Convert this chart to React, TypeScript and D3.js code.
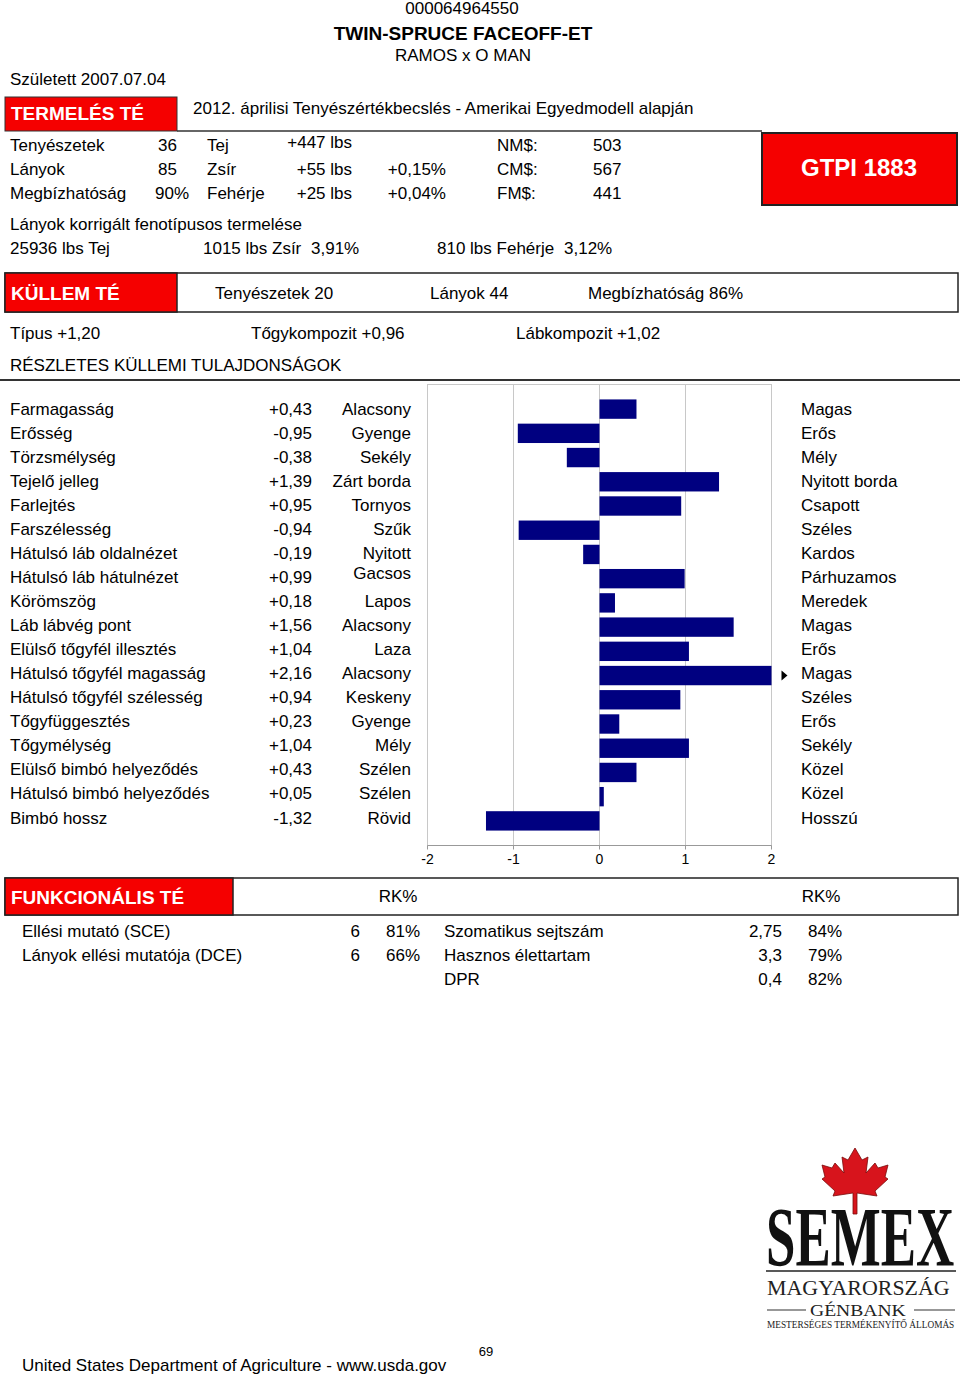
import React from "react";
import * as d3 from "d3";

const traitNames = [
  "Farmagasság", "Erősség", "Törzsmélység", "Tejelő jelleg", "Farlejtés", "Farszélesség",
  "Hátulsó láb oldalnézet", "Hátulsó láb hátulnézet", "Körömszög", "Láb lábvég pont",
  "Elülső tőgyfél illesztés", "Hátulsó tőgyfél magasság", "Hátulsó tőgyfél szélesség",
  "Tőgyfüggesztés", "Tőgymélység", "Elülső bimbó helyeződés", "Hátulsó bimbó helyeződés", "Bimbó hossz",
];
const traitValues = [0.43, -0.95, -0.38, 1.39, 0.95, -0.94, -0.19, 0.99, 0.18, 1.56, 1.04, 2.16, 0.94, 0.23, 1.04, 0.43, 0.05, -1.32];
const traitLow = [
  "Alacsony", "Gyenge", "Sekély", "Zárt borda", "Tornyos", "Szűk", "Nyitott", "Gacsos", "Lapos",
  "Alacsony", "Laza", "Alacsony", "Keskeny", "Gyenge", "Mély", "Szélen", "Szélen", "Rövid",
];
const traitHigh = [
  "Magas", "Erős", "Mély", "Nyitott borda", "Csapott", "Széles", "Kardos", "Párhuzamos", "Meredek",
  "Magas", "Erős", "Magas", "Széles", "Erős", "Sekély", "Közel", "Közel", "Hosszú",
];
const axisTicks = [-2, -1, 0, 1, 2];

const prodLabels = ["Tenyészetek", "Lányok", "Megbízhatóság"];
const prodCounts = ["36", "85", "90%"];
const prodTraits = ["Tej", "Zsír", "Fehérje"];
const prodLbs = ["+447 lbs", "+55 lbs", "+25 lbs"];
const prodPct = ["", "+0,15%", "+0,04%"];
const indexNames = ["NM$:", "CM$:", "FM$:"];
const indexValues = ["503", "567", "441"];

const funcLeftNames = ["Ellési mutató (SCE)", "Lányok ellési mutatója (DCE)"];
const funcLeftValues = ["6", "6"];
const funcLeftRel = ["81%", "66%"];
const funcRightNames = ["Szomatikus sejtszám", "Hasznos élettartam", "DPR"];
const funcRightValues = ["2,75", "3,3", "0,4"];
const funcRightRel = ["84%", "79%", "82%"];

const FONT = "'Liberation Sans', Arial, sans-serif";
const SERIF = "'Liberation Serif', 'Times New Roman', serif";
const RED = "#f50000";
const NAVY = "#000080";

const fmt = (v: number) => (v >= 0 ? "+" : "-") + Math.abs(v).toFixed(2).replace(".", ",");

export default function App() {
  const x = d3.scaleLinear().domain([-2, 2]).range([427.5, 771.5]);
  const idx = d3.range(traitNames.length);
  const y = d3.scaleBand<number>().domain(idx).range([397, 833]).paddingInner(0.2).paddingOuter(0.1);
  const center = (i: number) => (y(i) as number) + y.bandwidth() / 2;
  const yText = d3.scalePoint<number>().domain(idx).range([408.5, 817.5]);
  const plotTop = 384.5;
  const plotBottom = 845.5;

  const t = (props: any, s: string) => (
    <text fontFamily={FONT} fontSize={17} fill="#000" {...props}>
      {s}
    </text>
  );

  const prodY = [151, 175, 199];
  const rowDy = (i: number) => (i === 7 ? -4 : 0);

  const leaf = [
    [0, 0], [7, 12], [13, 9], [11, 25], [20, 15], [23, 20], [33, 17], [30, 29], [33, 31],
    [20, 43], [22, 48], [2, 45], [2, 66], [-2, 66], [-2, 45], [-22, 48], [-20, 43], [-33, 31],
    [-30, 29], [-33, 17], [-23, 20], [-20, 15], [-11, 25], [-13, 9], [-7, 12],
  ];
  const leafPath = d3.line()(leaf.map(([a, b]) => [855 + a, 1148 + b] as [number, number])) + "Z";

  return (
    <svg width={960} height={1377} style={{ position: "absolute", left: 0, top: 0, background: "#fff" }}>
      <rect x={0} y={0} width={960} height={1377} fill="#fff" />
      {t({ x: 462, y: 14, textAnchor: "middle" }, "000064964550")}
      {t({ x: 463, y: 40, textAnchor: "middle", fontSize: 19, fontWeight: "bold" }, "TWIN-SPRUCE FACEOFF-ET")}
      {t({ x: 463, y: 61, textAnchor: "middle" }, "RAMOS x O MAN")}
      {t({ x: 10, y: 85 }, "Született 2007.07.04")}

      <rect x={5} y={97} width={172} height={34} fill={RED} stroke="#333" strokeWidth={1} />
      {t({ x: 11, y: 120, fill: "#fff", fontWeight: "bold", fontSize: 19 }, "TERMELÉS TÉ")}
      {t({ x: 193, y: 114 }, "2012. áprilisi Tenyészértékbecslés - Amerikai Egyedmodell alapján")}
      <line x1={177} x2={762} y1={131} y2={131} stroke="#333" strokeWidth={1.5} />

      <rect x={762} y={133} width={195} height={72} fill={RED} stroke="#222" strokeWidth={2} />
      {t({ x: 859, y: 176, textAnchor: "middle", fill: "#fff", fontWeight: "bold", fontSize: 24 }, "GTPI 1883")}

      {prodLabels.map((s, i) => (
        <g key={"p" + i}>
          {t({ x: 10, y: prodY[i] }, s)}
          {t({ x: i === 2 ? 155 : 158, y: prodY[i] }, prodCounts[i])}
          {t({ x: 207, y: prodY[i] }, prodTraits[i])}
          {t({ x: 352, y: prodY[i] - (i === 0 ? 3 : 0), textAnchor: "end" }, prodLbs[i])}
          {t({ x: 446, y: prodY[i], textAnchor: "end" }, prodPct[i])}
          {t({ x: 497, y: prodY[i] }, indexNames[i])}
          {t({ x: 593, y: prodY[i] }, indexValues[i])}
        </g>
      ))}
      {t({ x: 10, y: 230 }, "Lányok korrigált fenotípusos termelése")}
      {t({ x: 10, y: 254 }, "25936 lbs Tej")}
      {t({ x: 203, y: 254 }, "1015 lbs Zsír")}
      {t({ x: 311, y: 254 }, "3,91%")}
      {t({ x: 437, y: 254 }, "810 lbs Fehérje")}
      {t({ x: 564, y: 254 }, "3,12%")}

      <rect x={5} y={273} width={953} height={39} fill="#fff" stroke="#222" strokeWidth={1.5} />
      <rect x={5} y={273} width={172} height={39} fill={RED} stroke="#222" strokeWidth={1.5} />
      {t({ x: 11, y: 300, fill: "#fff", fontWeight: "bold", fontSize: 19 }, "KÜLLEM TÉ")}
      {t({ x: 215, y: 299 }, "Tenyészetek 20")}
      {t({ x: 430, y: 299 }, "Lányok 44")}
      {t({ x: 588, y: 299 }, "Megbízhatóság 86%")}
      {t({ x: 10, y: 339 }, "Típus +1,20")}
      {t({ x: 251, y: 339 }, "Tőgykompozit +0,96")}
      {t({ x: 516, y: 339 }, "Lábkompozit +1,02")}
      {t({ x: 10, y: 371 }, "RÉSZLETES KÜLLEMI TULAJDONSÁGOK")}
      <line x1={0} x2={960} y1={380} y2={380} stroke="#333" strokeWidth={2} />

      <rect x={x(-2)} y={plotTop} width={x(2) - x(-2)} height={plotBottom - plotTop} fill="none" stroke="#c8c8c8" strokeWidth={1} />
      {axisTicks.map((v) => (
        <line key={"g" + v} x1={x(v)} x2={x(v)} y1={plotTop} y2={plotBottom} stroke="#c8c8c8" strokeWidth={1} />
      ))}
      <line x1={x(-2)} x2={x(2)} y1={plotBottom} y2={plotBottom} stroke="#999" strokeWidth={1} />
      {axisTicks.map((v) => (
        <g key={"t" + v}>
          <line x1={x(v)} x2={x(v)} y1={plotBottom} y2={plotBottom + 4} stroke="#999" />
          {t({ x: x(v), y: 864, textAnchor: "middle", fontSize: 14 }, String(v))}
        </g>
      ))}
      {traitValues.map((v, i) => {
        const cv = Math.max(-2, Math.min(2, v));
        const x0 = x(Math.min(0, cv));
        const x1 = x(Math.max(0, cv));
        return <rect key={"b" + i} x={x0} y={y(i)} width={x1 - x0} height={y.bandwidth()} fill={NAVY} />;
      })}
      {traitValues.map((v, i) =>
        v > 2 ? (
          <path key={"a" + i} d={`M${x(2) + 10},${center(i) - 5} L${x(2) + 16},${center(i)} L${x(2) + 10},${center(i) + 5}Z`} fill="#000" />
        ) : null
      )}
      {traitNames.map((s, i) => {
        const yy = (yText(i) as number) + 6;
        return (
          <g key={"r" + i}>
            {t({ x: 10, y: yy }, s)}
            {t({ x: 312, y: yy, textAnchor: "end" }, fmt(traitValues[i]))}
            {t({ x: 411, y: yy + rowDy(i), textAnchor: "end" }, traitLow[i])}
            {t({ x: 801, y: yy }, traitHigh[i])}
          </g>
        );
      })}

      <rect x={5} y={878} width={953} height={37} fill="#fff" stroke="#222" strokeWidth={1.5} />
      <rect x={5} y={878} width={228} height={37} fill={RED} stroke="#222" strokeWidth={1.5} />
      {t({ x: 11, y: 904, fill: "#fff", fontWeight: "bold", fontSize: 19 }, "FUNKCIONÁLIS TÉ")}
      {t({ x: 398, y: 902, textAnchor: "middle" }, "RK%")}
      {t({ x: 821, y: 902, textAnchor: "middle" }, "RK%")}
      {funcLeftNames.map((s, i) => (
        <g key={"fl" + i}>
          {t({ x: 22, y: 937 + i * 24 }, s)}
          {t({ x: 360, y: 937 + i * 24, textAnchor: "end" }, funcLeftValues[i])}
          {t({ x: 420, y: 937 + i * 24, textAnchor: "end" }, funcLeftRel[i])}
        </g>
      ))}
      {funcRightNames.map((s, i) => (
        <g key={"fr" + i}>
          {t({ x: 444, y: 937 + i * 24 }, s)}
          {t({ x: 782, y: 937 + i * 24, textAnchor: "end" }, funcRightValues[i])}
          {t({ x: 842, y: 937 + i * 24, textAnchor: "end" }, funcRightRel[i])}
        </g>
      ))}

      {/* Logo */}
      <path d={leafPath} fill="#d7141c" stroke="#7a0a0a" strokeWidth={0.8} />
      <g transform="translate(766,1266) scale(0.63,1)">
        <text x={0} y={0} fontFamily={SERIF} fontWeight="bold" fontSize={84} fill="#111">SEMEX</text>
      </g>
      <line x1={766} x2={956} y1={1271} y2={1271} stroke="#222" strokeWidth={1.5} />
      <g transform="translate(767,1295) scale(1.02,1)">
        <text x={0} y={0} fontFamily={SERIF} fontSize={21.5} fill="#222">MAGYARORSZÁG</text>
      </g>
      <g transform="translate(810,1316) scale(1.12,1)">
        <text x={0} y={0} fontFamily={SERIF} fontSize={17.5} fill="#222">GÉNBANK</text>
      </g>
      <line x1={767} x2={806} y1={1310} y2={1310} stroke="#333" strokeWidth={1.2} />
      <line x1={914} x2={955} y1={1310} y2={1310} stroke="#333" strokeWidth={1.2} />
      <g transform="translate(767,1328) scale(0.98,1)">
        <text x={0} y={0} fontFamily={SERIF} fontSize={9.5} fill="#222">MESTERSÉGES TERMÉKENYÍTŐ ÁLLOMÁS</text>
      </g>

      {t({ x: 486, y: 1356, textAnchor: "middle", fontSize: 13 }, "69")}
      {t({ x: 22, y: 1371 }, "United States Department of Agriculture - www.usda.gov")}
    </svg>
  );
}
